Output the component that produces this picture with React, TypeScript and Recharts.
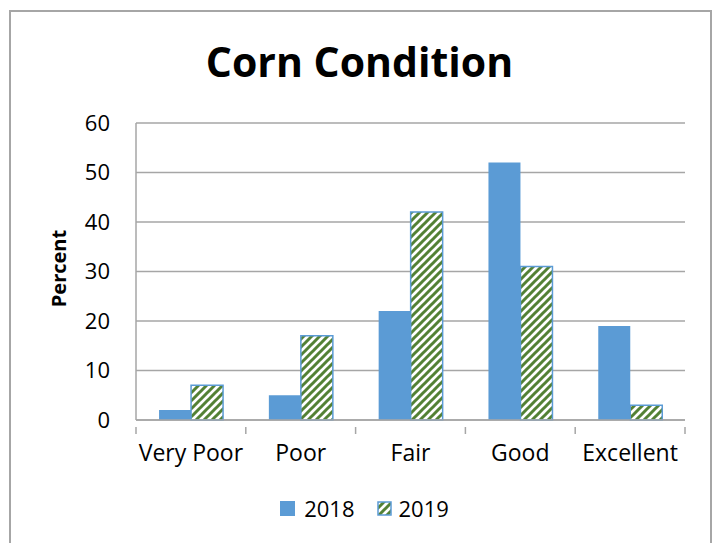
import React from 'react';
import { BarChart, Bar, XAxis, YAxis, CartesianGrid, Legend } from 'recharts';

const categories = ['Very Poor', 'Poor', 'Fair', 'Good', 'Excellent'];
const values2018 = [2, 5, 22, 52, 19];
const values2019 = [7, 17, 42, 31, 3];
const yTicks = [0, 10, 20, 30, 40, 50, 60];
const seriesNames = ['2018', '2019'];

const data = categories.map((c, i) => ({ name: c, y2018: values2018[i], y2019: values2019[i] }));

const W = 719;
const H = 543;
const M = { top: 123, right: 34, left: 0, bottom: 53 };
const Y_W = 136;
const BAND = (W - M.left - M.right - Y_W) / categories.length;
const FONT = '"Open Sans", sans-serif';
const BLUE = '#5b9bd5';
const GREEN = '#538135';
const GRID = '#a6a6a6';

const StripeDef = ({ id }: { id: string }) => (
  <pattern id={id} patternUnits="userSpaceOnUse" width="8" height="8">
    <rect width="8" height="8" fill="#ffffff" />
    <path d="M-2,2 l4,-4 M0,8 l8,-8 M6,10 l4,-4" stroke={GREEN} strokeWidth="3" />
  </pattern>
);

const XTick = (props: any) => {
  const { x, y, payload, index } = props;
  const half = BAND / 2;
  return (
    <g>
      <line x1={x - half} y1={y - 1} x2={x - half} y2={y + 6} stroke={GRID} strokeWidth={1.5} />
      {index === categories.length - 1 && (
        <line x1={x + half} y1={y - 1} x2={x + half} y2={y + 6} stroke={GRID} strokeWidth={1.5} />
      )}
      <text x={x} y={y + 33} textAnchor="middle" fontSize={23} fontFamily={FONT} fill="#000">
        {payload.value}
      </text>
    </g>
  );
};

const LegendContent = () => (
  <div style={{ display: 'flex', justifyContent: 'center', alignItems: 'center', paddingLeft: 44, fontFamily: FONT, fontSize: 22, color: '#000' }}>
    <svg width={15} height={15} style={{ marginRight: 9 }}>
      <rect x={0} y={0} width={15} height={15} fill={BLUE} />
    </svg>
    <span style={{ marginRight: 22 }}>{seriesNames[0]}</span>
    <svg width={15} height={15} style={{ marginRight: 7 }}>
      <defs>
        <StripeDef id="legendStripes" />
      </defs>
      <rect x={1} y={1} width={13} height={13} fill="url(#legendStripes)" stroke={BLUE} strokeWidth={1.5} />
    </svg>
    <span>{seriesNames[1]}</span>
  </div>
);

export default function App() {
  return (
    <div style={{ position: 'absolute', left: 0, top: 0, width: W, height: H, background: '#fff', overflow: 'hidden' }}>
      <div style={{ position: 'absolute', left: 9, top: 10, width: 703, height: 560, border: '2px solid #a6a6a6', boxSizing: 'border-box' }} />
      <div style={{ position: 'absolute', left: 0, top: 36, width: W, textAlign: 'center', fontFamily: FONT, fontWeight: 'bold', fontSize: 41, lineHeight: '50px', color: '#000' }}>
        Corn Condition
      </div>
      <div style={{ position: 'absolute', left: 0, top: 0 }}>
        <BarChart width={W} height={H} data={data} margin={M} barCategoryGap="21%" barGap={0}>
          <defs>
            <StripeDef id="barStripes" />
          </defs>
          <CartesianGrid vertical={false} stroke={GRID} strokeWidth={1.5} />
          <XAxis
            dataKey="name"
            height={40}
            axisLine={{ stroke: GRID, strokeWidth: 1.5 }}
            tickLine={false}
            tick={<XTick />}
            interval={0}
          />
          <YAxis
            width={Y_W}
            domain={[0, 60]}
            ticks={yTicks}
            axisLine={{ stroke: GRID, strokeWidth: 1.5 }}
            tickLine={false}
            tickSize={0}
            tickMargin={26}
            tick={{ fontSize: 22, fontFamily: FONT, fill: '#000' }}
            label={{ value: 'Percent', angle: -90, position: 'center', dx: -9, dy: -3, style: { fontSize: 20, fontWeight: 'bold', fontFamily: FONT, fill: '#000' } }}
          />
          <Legend content={<LegendContent />} verticalAlign="bottom" wrapperStyle={{ height: 30, top: 493, bottom: 'auto' }} />
          <Bar dataKey="y2018" name={seriesNames[0]} fill={BLUE} isAnimationActive={false} />
          <Bar dataKey="y2019" name={seriesNames[1]} fill="url(#barStripes)" stroke={BLUE} strokeWidth={1.5} isAnimationActive={false} />
        </BarChart>
      </div>
    </div>
  );
}
